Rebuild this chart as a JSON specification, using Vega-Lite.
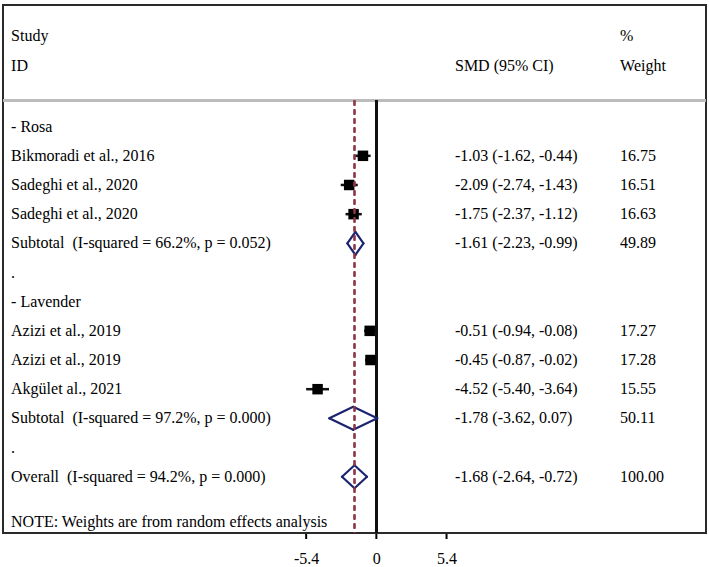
{
  "$schema": "https://vega.github.io/schema/vega-lite/v6.json",
  "width": 703,
  "height": 528,
  "autosize": {"type": "none"},
  "padding": {"left": 3, "top": 5, "right": 3, "bottom": 34},
  "background": "white",
  "config": {
    "view": {"stroke": "#2a2a2a", "strokeWidth": 2},
    "text": {"font": "Liberation Serif", "fontSize": 16, "color": "#000000", "align": "left", "baseline": "middle"},
    "axis": {"labelFont": "Liberation Serif", "labelFontSize": 16, "labelColor": "#000000", "domain": false, "grid": false, "ticks": false, "labelPadding": 17}
  },
  "datasets": {
    "rows": [
      {"row": -3.1, "type": "header", "label": "Study", "ci": "", "w": "%"},
      {"row": -2.08, "type": "header", "label": "ID", "ci": "SMD (95% CI)", "w": "Weight"},
      {"row": 0, "type": "group", "label": "\u00a0\u00a0- Rosa", "ci": "", "w": ""},
      {"row": 1, "type": "study", "label": "Bikmoradi et al., 2016", "est": -1.03, "lo": -1.62, "hi": -0.44, "ci": "-1.03 (-1.62, -0.44)", "w": "16.75"},
      {"row": 2, "type": "study", "label": "Sadeghi et al., 2020", "est": -2.09, "lo": -2.74, "hi": -1.43, "ci": "-2.09 (-2.74, -1.43)", "w": "16.51"},
      {"row": 3, "type": "study", "label": "Sadeghi et al., 2020", "est": -1.75, "lo": -2.37, "hi": -1.12, "ci": "-1.75 (-2.37, -1.12)", "w": "16.63"},
      {"row": 4, "type": "subtotal", "label": "Subtotal\u00a0 (I-squared = 66.2%, p = 0.052)", "est": -1.61, "lo": -2.23, "hi": -0.99, "ci": "-1.61 (-2.23, -0.99)", "w": "49.89"},
      {"row": 5, "type": "dot", "label": ".", "ci": "", "w": ""},
      {"row": 6, "type": "group", "label": "\u00a0\u00a0- Lavender", "ci": "", "w": ""},
      {"row": 7, "type": "study", "label": "Azizi et al., 2019", "est": -0.51, "lo": -0.94, "hi": -0.08, "ci": "-0.51 (-0.94, -0.08)", "w": "17.27"},
      {"row": 8, "type": "study", "label": "Azizi et al., 2019", "est": -0.45, "lo": -0.87, "hi": -0.02, "ci": "-0.45 (-0.87, -0.02)", "w": "17.28"},
      {"row": 9, "type": "study", "label": "Akgület al., 2021", "est": -4.52, "lo": -5.40, "hi": -3.64, "ci": "-4.52 (-5.40, -3.64)", "w": "15.55"},
      {"row": 10, "type": "subtotal", "label": "Subtotal\u00a0 (I-squared = 97.2%, p = 0.000)", "est": -1.78, "lo": -3.62, "hi": 0.07, "ci": "-1.78 (-3.62, 0.07)", "w": "50.11"},
      {"row": 11, "type": "dot", "label": ".", "ci": "", "w": ""},
      {"row": 12, "type": "overall", "label": "Overall\u00a0 (I-squared = 94.2%, p = 0.000)", "est": -1.68, "lo": -2.64, "hi": -0.72, "ci": "-1.68 (-2.64, -0.72)", "w": "100.00"},
      {"row": 13.55, "type": "note", "label": "NOTE: Weights are from random effects analysis", "ci": "", "w": ""}
    ],
    "ticks": [{"t": -5.4}, {"t": 0}, {"t": 5.4}]
  },
  "data": {"name": "rows"},
  "layer": [
    {
      "mark": {"type": "rule", "color": "#bbbbbb", "strokeWidth": 2},
      "encoding": {
        "y": {"datum": -0.9, "type": "quantitative", "scale": {"domain": [-4.17, 13.93], "reverse": true, "nice": false, "zero": false}, "axis": null}
      }
    },
    {
      "data": {"name": "ticks"},
      "mark": {"type": "point", "shape": "M0,0L0,1", "filled": false, "stroke": "#000000", "strokeWidth": 2, "size": 100, "opacity": 1, "yOffset": 1, "clip": false},
      "encoding": {
        "x": {"field": "t", "type": "quantitative", "scale": {"domain": [-28.72, 25.36], "nice": false, "zero": false},
          "axis": {"values": [-5.4, 0, 5.4], "title": null, "labelExpr": "datum.value < 0 ? '-' + format(-datum.value, '.1f') : (datum.value == 0 ? '0' : format(datum.value, '.1f'))"}},
        "y": {"datum": 13.93, "type": "quantitative", "scale": {"domain": [-4.17, 13.93], "reverse": true, "nice": false, "zero": false}, "axis": null}
      }
    },
    {
      "transform": [{"filter": "datum.type == 'study'"}],
      "mark": {"type": "rule", "color": "#111111", "strokeWidth": 2.5},
      "encoding": {
        "x": {"field": "lo", "type": "quantitative", "scale": {"domain": [-28.72, 25.36], "nice": false, "zero": false},
          "axis": {"values": [-5.4, 0, 5.4], "title": null, "labelExpr": "datum.value < 0 ? '-' + format(-datum.value, '.1f') : (datum.value == 0 ? '0' : format(datum.value, '.1f'))"}},
        "x2": {"field": "hi"},
        "y": {"field": "row", "type": "quantitative", "scale": {"domain": [-4.17, 13.93], "reverse": true, "nice": false, "zero": false}, "axis": null}
      }
    },
    {
      "mark": {"type": "rule", "color": "#111111", "strokeWidth": 1.8},
      "encoding": {
        "x": {"datum": 0, "type": "quantitative", "scale": {"domain": [-28.72, 25.36], "nice": false, "zero": false},
          "axis": {"values": [-5.4, 0, 5.4], "title": null, "labelExpr": "datum.value < 0 ? '-' + format(-datum.value, '.1f') : (datum.value == 0 ? '0' : format(datum.value, '.1f'))"}},
        "y": {"datum": -0.9, "type": "quantitative", "scale": {"domain": [-4.17, 13.93], "reverse": true, "nice": false, "zero": false}, "axis": null},
        "y2": {"datum": 13.93}
      }
    },
    {
      "transform": [{"filter": "datum.type == 'study'"}],
      "mark": {"type": "point", "shape": "square", "filled": true, "color": "#000000", "size": 110, "opacity": 1},
      "encoding": {
        "x": {"field": "est", "type": "quantitative", "scale": {"domain": [-28.72, 25.36], "nice": false, "zero": false},
          "axis": {"values": [-5.4, 0, 5.4], "title": null, "labelExpr": "datum.value < 0 ? '-' + format(-datum.value, '.1f') : (datum.value == 0 ? '0' : format(datum.value, '.1f'))"}},
        "y": {"field": "row", "type": "quantitative", "scale": {"domain": [-4.17, 13.93], "reverse": true, "nice": false, "zero": false}, "axis": null}
      }
    },
    {
      "transform": [{"filter": "datum.type == 'subtotal' || datum.type == 'overall'"}],
      "mark": {"type": "rule", "color": "#1b2470", "strokeWidth": 2.2, "strokeCap": "round", "yOffset": 0, "y2Offset": -11.5},
      "encoding": {
        "x": {"field": "lo", "type": "quantitative", "scale": {"domain": [-28.72, 25.36], "nice": false, "zero": false},
          "axis": {"values": [-5.4, 0, 5.4], "title": null, "labelExpr": "datum.value < 0 ? '-' + format(-datum.value, '.1f') : (datum.value == 0 ? '0' : format(datum.value, '.1f'))"}},
        "x2": {"field": "est"},
        "y": {"field": "row", "type": "quantitative", "scale": {"domain": [-4.17, 13.93], "reverse": true, "nice": false, "zero": false}, "axis": null},
        "y2": {"field": "row"}
      }
    },
    {
      "transform": [{"filter": "datum.type == 'subtotal' || datum.type == 'overall'"}],
      "mark": {"type": "rule", "color": "#1b2470", "strokeWidth": 2.2, "strokeCap": "round", "yOffset": 0, "y2Offset": 11.5},
      "encoding": {
        "x": {"field": "lo", "type": "quantitative", "scale": {"domain": [-28.72, 25.36], "nice": false, "zero": false},
          "axis": {"values": [-5.4, 0, 5.4], "title": null, "labelExpr": "datum.value < 0 ? '-' + format(-datum.value, '.1f') : (datum.value == 0 ? '0' : format(datum.value, '.1f'))"}},
        "x2": {"field": "est"},
        "y": {"field": "row", "type": "quantitative", "scale": {"domain": [-4.17, 13.93], "reverse": true, "nice": false, "zero": false}, "axis": null},
        "y2": {"field": "row"}
      }
    },
    {
      "transform": [{"filter": "datum.type == 'subtotal' || datum.type == 'overall'"}],
      "mark": {"type": "rule", "color": "#1b2470", "strokeWidth": 2.2, "strokeCap": "round", "yOffset": -11.5, "y2Offset": 0},
      "encoding": {
        "x": {"field": "est", "type": "quantitative", "scale": {"domain": [-28.72, 25.36], "nice": false, "zero": false},
          "axis": {"values": [-5.4, 0, 5.4], "title": null, "labelExpr": "datum.value < 0 ? '-' + format(-datum.value, '.1f') : (datum.value == 0 ? '0' : format(datum.value, '.1f'))"}},
        "x2": {"field": "hi"},
        "y": {"field": "row", "type": "quantitative", "scale": {"domain": [-4.17, 13.93], "reverse": true, "nice": false, "zero": false}, "axis": null},
        "y2": {"field": "row"}
      }
    },
    {
      "transform": [{"filter": "datum.type == 'subtotal' || datum.type == 'overall'"}],
      "mark": {"type": "rule", "color": "#1b2470", "strokeWidth": 2.2, "strokeCap": "round", "yOffset": 11.5, "y2Offset": 0},
      "encoding": {
        "x": {"field": "est", "type": "quantitative", "scale": {"domain": [-28.72, 25.36], "nice": false, "zero": false},
          "axis": {"values": [-5.4, 0, 5.4], "title": null, "labelExpr": "datum.value < 0 ? '-' + format(-datum.value, '.1f') : (datum.value == 0 ? '0' : format(datum.value, '.1f'))"}},
        "x2": {"field": "hi"},
        "y": {"field": "row", "type": "quantitative", "scale": {"domain": [-4.17, 13.93], "reverse": true, "nice": false, "zero": false}, "axis": null},
        "y2": {"field": "row"}
      }
    },
    {
      "mark": {"type": "rule", "color": "#8c3a48", "strokeWidth": 1.2, "strokeDash": [5, 4]},
      "encoding": {
        "x": {"datum": -1.68, "type": "quantitative", "scale": {"domain": [-28.72, 25.36], "nice": false, "zero": false},
          "axis": {"values": [-5.4, 0, 5.4], "title": null, "labelExpr": "datum.value < 0 ? '-' + format(-datum.value, '.1f') : (datum.value == 0 ? '0' : format(datum.value, '.1f'))"}},
        "y": {"datum": -0.9, "type": "quantitative", "scale": {"domain": [-4.17, 13.93], "reverse": true, "nice": false, "zero": false}, "axis": null},
        "y2": {"datum": 13.93}
      }
    },
    {
      "mark": {"type": "text"},
      "encoding": {
        "x": {"datum": -28.1, "type": "quantitative", "scale": {"domain": [-28.72, 25.36], "nice": false, "zero": false},
          "axis": {"values": [-5.4, 0, 5.4], "title": null, "labelExpr": "datum.value < 0 ? '-' + format(-datum.value, '.1f') : (datum.value == 0 ? '0' : format(datum.value, '.1f'))"}},
        "y": {"field": "row", "type": "quantitative", "scale": {"domain": [-4.17, 13.93], "reverse": true, "nice": false, "zero": false}, "axis": null},
        "text": {"field": "label"}
      }
    },
    {
      "transform": [{"filter": "datum.ci != ''"}],
      "mark": {"type": "text"},
      "encoding": {
        "x": {"datum": 6.05, "type": "quantitative", "scale": {"domain": [-28.72, 25.36], "nice": false, "zero": false},
          "axis": {"values": [-5.4, 0, 5.4], "title": null, "labelExpr": "datum.value < 0 ? '-' + format(-datum.value, '.1f') : (datum.value == 0 ? '0' : format(datum.value, '.1f'))"}},
        "y": {"field": "row", "type": "quantitative", "scale": {"domain": [-4.17, 13.93], "reverse": true, "nice": false, "zero": false}, "axis": null},
        "text": {"field": "ci"}
      }
    },
    {
      "transform": [{"filter": "datum.w != ''"}],
      "mark": {"type": "text"},
      "encoding": {
        "x": {"datum": 18.75, "type": "quantitative", "scale": {"domain": [-28.72, 25.36], "nice": false, "zero": false},
          "axis": {"values": [-5.4, 0, 5.4], "title": null, "labelExpr": "datum.value < 0 ? '-' + format(-datum.value, '.1f') : (datum.value == 0 ? '0' : format(datum.value, '.1f'))"}},
        "y": {"field": "row", "type": "quantitative", "scale": {"domain": [-4.17, 13.93], "reverse": true, "nice": false, "zero": false}, "axis": null},
        "text": {"field": "w"}
      }
    }
  ]
}
